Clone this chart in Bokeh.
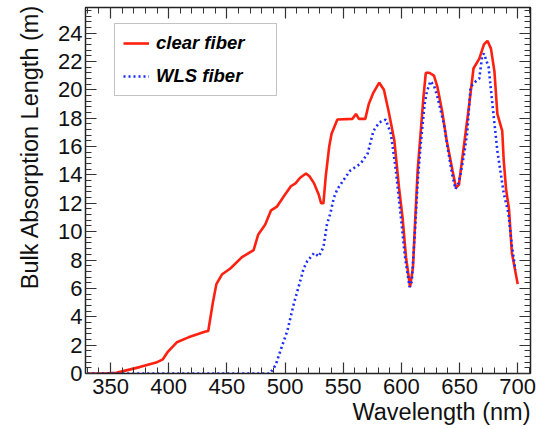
from bokeh.plotting import figure
from bokeh.models import (Range1d, LinearAxis, SingleIntervalTicker, Legend, LegendItem,
                          Title, CustomJSTickFormatter)
from bokeh.embed import file_html
from bokeh.resources import INLINE

# --- data ---
clear_wl = [330, 345, 355, 360, 375, 390, 395, 399, 407, 417, 431, 434, 438, 441, 446, 453,
            463, 473, 477, 483, 488, 493, 499, 505, 509, 513, 518, 521, 525, 529, 531, 533,
            535, 538, 540, 545, 558, 561, 563.5, 569, 572, 576, 581, 585, 589, 594, 598, 601,
            604, 607.5, 610, 612, 614, 616.5, 619, 621, 624, 628, 631, 635, 639, 644, 647,
            649.5, 651, 654, 658, 662, 667, 671, 674, 677, 680, 682.5, 686.7, 688, 690, 692.5,
            695, 700]
clear_len = [0.0, 0.0, 0.05, 0.15, 0.45, 0.8, 1.0, 1.5, 2.2, 2.55, 2.95, 3.0, 5.0, 6.3, 7.0, 7.4,
             8.2, 8.7, 9.8, 10.5, 11.5, 11.76, 12.5, 13.2, 13.4, 13.8, 14.1, 13.9, 13.4, 12.6, 12.0, 12.0,
             13.9, 16.0, 16.9, 17.9, 17.95, 18.3, 17.95, 17.95, 19.0, 19.8, 20.5, 20.0, 18.5, 16.4, 13.1, 11.0,
             8.2, 6.1, 7.5, 11.0, 14.3, 16.9, 19.5, 21.2, 21.2, 21.0, 20.2, 18.5, 16.4, 14.3, 13.1,
             13.3, 14.3, 16.2, 18.75, 21.5, 22.2, 23.2, 23.45, 22.9, 21.3, 18.3, 17.1, 15.0, 13.0, 11.6,
             8.5, 6.3]

wls_wl = [330, 487, 492, 496, 502, 507.5, 513, 516, 519, 525, 529, 533, 536, 539, 542, 545, 550,
          556, 565, 571, 576, 581, 586.5, 591, 595, 599.5, 603, 607, 609, 612, 614, 617, 620, 622,
          625, 628, 631, 636.5, 640, 643.5, 646.5, 649, 651, 654, 656.5, 659.5, 664, 667, 669.5,
          671, 675, 678, 682.5, 688, 692, 695, 698]
wls_len = [0.0, 0.0, 0.6, 1.6, 3.0, 4.9, 6.5, 7.4, 7.9, 8.5, 8.25, 8.9, 10.5, 11.3, 12.4, 13.0, 13.6,
           14.3, 14.8, 15.5, 17.1, 17.7, 17.9, 16.9, 14.5, 11.1, 8.3, 6.1, 6.5, 10.5, 13.5, 16.5, 19.0, 19.9,
           20.6, 20.3, 19.5, 17.6, 15.8, 14.1, 13.0, 13.4, 14.1, 15.5, 16.9, 20.2, 20.6, 20.8, 22.4,
           22.55, 21.6, 19.2, 15.7, 12.7, 11.3, 9.0, 7.3]

series_names = ["clear fiber", "WLS fiber"]
x_label = "Wavelength (nm)"
y_label = "Bulk Absorption Length (m)"

FONT = "Liberation Sans"

p = figure(width=539, height=429, output_backend="svg", toolbar_location=None,
           x_range=Range1d(328.5, 711), y_range=Range1d(0, 25.8),
           x_axis_location=None, y_axis_location=None,
           min_border_left=85, min_border_right=9, min_border_top=7, min_border_bottom=56)
p.grid.visible = False
p.outline_line_color = "black"
p.outline_line_width = 1.2
p.background_fill_color = "white"
p.border_fill_color = "white"

def make_axis(interval, labels=True):
    ax = LinearAxis(ticker=SingleIntervalTicker(interval=interval, num_minor_ticks=5))
    ax.major_tick_in = 11
    ax.major_tick_out = 0
    ax.minor_tick_in = 6
    ax.minor_tick_out = 0
    ax.axis_line_color = "#222222"
    ax.axis_line_width = 1.3
    ax.major_tick_line_color = "#333333"
    ax.minor_tick_line_color = "#333333"
    ax.major_tick_line_width = 1.2
    ax.minor_tick_line_width = 1.0
    if labels:
        ax.major_label_text_font = FONT
        ax.major_label_text_font_size = "22px"
        ax.major_label_text_color = "#111111"
    else:
        ax.formatter = CustomJSTickFormatter(code="return ''")
        ax.major_label_text_font_size = "1px"
        ax.major_label_standoff = 0
    return ax

xb = make_axis(50, True)
xb.major_label_standoff = 5
p.add_layout(xb, "below")
yl = make_axis(2, True)
yl.major_label_standoff = 3
p.add_layout(yl, "left")
p.add_layout(make_axis(50, False), "above")
p.add_layout(make_axis(2, False), "right")

# axis titles, right/top aligned as in the reference
p.add_layout(Title(text=x_label, align="right", text_font=FONT, text_font_size="23.5px",
                   text_font_style="normal", text_color="#111111", standoff=1), "below")
p.add_layout(Title(text=y_label, align="right", text_font=FONT,
                   text_font_size="23.5px", text_font_style="normal", text_color="#111111",
                   standoff=25, offset=-3), "left")

r1 = p.line(clear_wl, clear_len, line_color="#ff2010", line_width=2.6)
r2 = p.line(wls_wl, wls_len, line_color="#1a2cff", line_width=2.6, line_dash="2 3")

legend = Legend(items=[LegendItem(label=series_names[0], renderers=[r1]),
                       LegendItem(label=series_names[1], renderers=[r2])],
                location=(29, 277))
legend.label_text_font = FONT
legend.label_text_font_size = "18.5px"
legend.label_text_font_style = "bold italic"
legend.label_text_color = "black"
legend.glyph_width = 26
legend.glyph_height = 22
legend.label_height = 22
legend.label_width = 112
legend.label_standoff = 7
legend.spacing = 11
legend.padding = 8
legend.margin = 0
legend.border_line_color = "#888888"
legend.border_line_width = 1.2
legend.background_fill_color = "white"
legend.background_fill_alpha = 1.0
p.add_layout(legend, "center")

open("out.html", "w").write(file_html(p, INLINE))
